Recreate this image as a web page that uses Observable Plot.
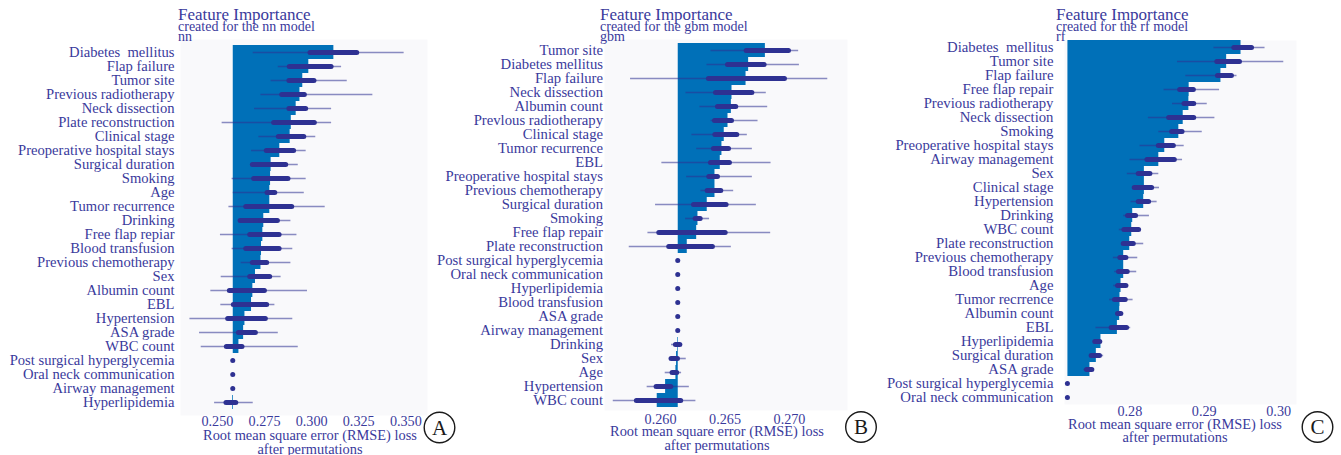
<!DOCTYPE html>
<html>
<head>
<meta charset="utf-8">
<script src="https://cdn.jsdelivr.net/npm/d3@7"></script>
<script src="https://cdn.jsdelivr.net/npm/@observablehq/plot@0.6"></script>
<style>
  html, body { margin: 0; padding: 0; background: #ffffff; }
  #wrap { position: relative; width: 1341px; height: 455px; overflow: hidden; }
  #wrap > svg { position: absolute; left: 0; top: 0; }
</style>
</head>
<body>
<div id="wrap"></div>
<script>
// ---------------- Panel A : nn model ----------------
const featuresA = ["Diabetes\u00a0 mellitus","Flap failure","Tumor site","Previous radiotherapy","Neck dissection","Plate reconstruction","Clinical stage","Preoperative hospital stays","Surgical duration","Smoking","Age","Tumor recurrence","Drinking","Free flap repiar","Blood transfusion","Previous chemotherapy","Sex","Albumin count","EBL","Hypertension","ASA grade","WBC count","Post surgical hyperglycemia","Oral neck communication","Airway management","Hyperlipidemia"];
const baselineA = 0.2584;
const lossA = [0.3118,0.2985,0.2953,0.2938,0.2918,0.2892,0.2886,0.2831,0.2785,0.2782,0.2778,0.2778,0.2746,0.2741,0.2734,0.2731,0.2702,0.2688,0.2681,0.2646,0.2639,0.2614,0.2584,0.2584,0.2584,0.2580];
const minA  = [0.2690,0.2823,0.2785,0.2731,0.2697,0.2525,0.2720,0.2681,0.2685,0.2578,0.2584,0.2561,0.2623,0.2516,0.2578,0.2626,0.2520,0.2465,0.2518,0.2354,0.2405,0.2414,0.2584,0.2584,0.2584,0.2485];
const maxA  = [0.3491,0.3159,0.3189,0.3325,0.3106,0.3106,0.3022,0.2971,0.2929,0.2971,0.2961,0.3072,0.2890,0.2922,0.2900,0.2890,0.2838,0.2978,0.2805,0.2900,0.2823,0.2929,0.2584,0.2584,0.2584,0.2690];
const q1A   = [0.2994,0.2884,0.2882,0.2844,0.2882,0.2801,0.2826,0.2762,0.2688,0.2695,0.2766,0.2653,0.2623,0.2674,0.2653,0.2688,0.2674,0.2566,0.2587,0.2557,0.2614,0.2550,0.2584,0.2584,0.2584,0.2548];
const q3A   = [0.3242,0.3106,0.3015,0.2964,0.2971,0.3017,0.2961,0.2907,0.2865,0.2877,0.2807,0.2897,0.2821,0.2830,0.2830,0.2764,0.2780,0.2752,0.2764,0.2757,0.2704,0.2633,0.2584,0.2584,0.2584,0.2600];
const ticksA = [0.250,0.275,0.300,0.325,0.350];

// ---------------- Panel B : gbm model ----------------
const featuresB = ["Tumor site","Diabetes mellitus","Flap failure","Neck dissection","Albumin count","Prevlous radiotherapy","Clinical stage","Tumor recurrence","EBL","Preoperative hospital stays","Previous chemotherapy","Surgical duration","Smoking","Free flap repair","Plate reconstruction","Post surgical hyperglycemia","Oral neck communication","Hyperlipidemia","Blood transfusion","ASA grade","Airway management","Drinking","Sex","Age","Hypertension","WBC count"];
const baselineB = 0.26137;
const lossB = [0.26813,0.26683,0.26663,0.26554,0.26549,0.26523,0.26494,0.26476,0.26463,0.26422,0.26422,0.26362,0.26290,0.26280,0.26207,0.26137,0.26137,0.26137,0.26137,0.26137,0.26137,0.26132,0.26124,0.26119,0.26039,0.25974];
const minB  = [0.26391,0.26360,0.25767,0.26197,0.26305,0.26391,0.26243,0.26280,0.26010,0.26202,0.26313,0.25961,0.26194,0.25902,0.25757,0.26137,0.26137,0.26137,0.26137,0.26137,0.26137,0.26085,0.26078,0.26036,0.25896,0.25633];
const maxB  = [0.27071,0.27077,0.27297,0.26820,0.26831,0.26756,0.26673,0.26712,0.26857,0.26712,0.26567,0.26743,0.26380,0.26854,0.26549,0.26137,0.26137,0.26137,0.26137,0.26137,0.26137,0.26171,0.26199,0.26163,0.26223,0.26274];
const q1B   = [0.26668,0.26523,0.26375,0.26430,0.26445,0.26422,0.26425,0.26414,0.26391,0.26378,0.26365,0.26259,0.26272,0.25990,0.26067,0.26137,0.26137,0.26137,0.26137,0.26137,0.26137,0.26119,0.26085,0.26093,0.25969,0.25816];
const q3B   = [0.26996,0.26807,0.26965,0.26712,0.26587,0.26554,0.26595,0.26531,0.26538,0.26445,0.26471,0.26512,0.26311,0.26505,0.26406,0.26137,0.26137,0.26137,0.26137,0.26137,0.26137,0.26153,0.26135,0.26129,0.26083,0.26160];
const ticksB = [0.260,0.265,0.270];

// ---------------- Panel C : rf model ----------------
const featuresC = ["Diabetes\u00a0 mellitus","Tumor site","Flap failure","Free flap repair","Previous radiotherapy","Neck dissection","Smoking","Preoperative hospital stays","Airway management","Sex","Clinical stage","Hypertension","Drinking","WBC count","Plate reconstruction","Previous chemotherapy","Blood transfusion","Age","Tumor recrrence","Albumin count","EBL","Hyperlipidemia","Surgical duration","ASA grade","Post surgical hyperglycemia","Oral neck communication"];
const baselineC = 0.27167;
const lossC = [0.29494,0.29301,0.29224,0.28797,0.28793,0.28717,0.28658,0.28469,0.28389,0.28195,0.28195,0.28186,0.28038,0.28025,0.27998,0.27917,0.27917,0.27881,0.27867,0.27863,0.27832,0.27611,0.27549,0.27463,0.27167,0.27167];
const minC  = [0.29130,0.28640,0.28752,0.28460,0.28573,0.28249,0.28389,0.28137,0.28002,0.27966,0.28038,0.28016,0.27917,0.27858,0.27908,0.27778,0.27796,0.27782,0.27728,0.27818,0.27544,0.27513,0.27459,0.27382,0.27167,0.27167];
const maxC  = [0.29817,0.30069,0.29440,0.29206,0.29040,0.29143,0.28973,0.28730,0.28708,0.28389,0.28398,0.28366,0.28263,0.28133,0.28186,0.28106,0.28092,0.27984,0.28043,0.27903,0.28011,0.27611,0.27647,0.27499,0.27167,0.27167];
const q1C   = [0.29404,0.29175,0.29184,0.28676,0.28734,0.28528,0.28568,0.28389,0.28236,0.28119,0.28065,0.28119,0.27975,0.27926,0.27917,0.27872,0.27854,0.27841,0.27800,0.27841,0.27755,0.27535,0.27486,0.27423,0.27167,0.27167];
const q3C   = [0.29642,0.29480,0.29372,0.28860,0.28865,0.28865,0.28708,0.28591,0.28604,0.28276,0.28299,0.28258,0.28083,0.28124,0.28052,0.27953,0.27971,0.27953,0.27944,0.27885,0.27962,0.27602,0.27598,0.27495,0.27167,0.27167];
const ticksC = [0.28,0.29,0.30];

// ---------------- styling ----------------
const TEXT = "#3a3a9c";
const BAR = "#0070b8";
const BOX = "#2e3192";
const BG = "#f9f9fb";
const FONT = "'Liberation Serif', 'Times New Roman', serif";

function rows(features, baseline, loss, mn, mx, q1, q3) {
  return features.map((f, i) => ({feature: f, base: baseline, loss: loss[i], min: mn[i], max: mx[i], q1: q1[i], q3: q3[i]}));
}

function panel(cfg) {
  const data = rows(cfg.features, cfg.baseline, cfg.loss, cfg.min, cfg.max, cfg.q1, cfg.q3);
  return Plot.plot({
    width: 1341,
    height: 455,
    marginLeft: cfg.left,
    marginRight: 1341 - cfg.right,
    marginTop: cfg.top,
    marginBottom: 455 - cfg.bottom,
    style: {background: "transparent", fontFamily: FONT, fontSize: "14px", color: TEXT, overflow: "visible"},
    x: {domain: cfg.domain, label: null},
    y: {domain: cfg.features, padding: 0, label: null},
    marks: [
      Plot.frame({fill: BG, stroke: "none"}),
      Plot.barX(data, {y: "feature", x1: "base", x2: "loss", fill: BAR}),
      Plot.ruleY(data, {y: "feature", x1: "min", x2: "max", stroke: BOX, strokeOpacity: 0.55, strokeWidth: 1.6}),
      Plot.ruleY(data, {y: "feature", x1: "q1", x2: "q3", stroke: BOX, strokeWidth: 5, strokeLinecap: "round"}),
      Plot.axisX({ticks: cfg.ticks, tickFormat: cfg.fmt, tickSize: 0, tickPadding: cfg.xpad, label: null, fontSize: 14.2}),
      Plot.axisY({tickSize: 0, tickPadding: cfg.ypad, label: null, fontSize: cfg.yfont})
    ]
  });
}

const wrap = document.getElementById("wrap");
wrap.appendChild(panel({features: featuresA, baseline: baselineA, loss: lossA, min: minA, max: maxA, q1: q1A, q3: q3A,
  left: 180, right: 427, top: 39, bottom: 415, domain: [0.2304, 0.3615], ticks: ticksA, fmt: d3.format(".3f"), xpad: 0, ypad: 6, yfont: 14.6}));
wrap.appendChild(panel({features: featuresB, baseline: baselineB, loss: lossB, min: minB, max: maxB, q1: q1B, q3: q3B,
  left: 604, right: 847, top: 39, bottom: 410, domain: [0.25565, 0.2745], ticks: ticksB, fmt: d3.format(".3f"), xpad: 3, ypad: 1.5, yfont: 14.7}));
wrap.appendChild(panel({features: featuresC, baseline: baselineC, loss: lossC, min: minC, max: maxC, q1: q1C, q3: q3C,
  left: 1064, right: 1296, top: 40, bottom: 404, domain: [0.27121, 0.3024], ticks: ticksC, fmt: d3.format(".2f"), xpad: 1.5, ypad: 11, yfont: 14.75}));

// ---------------- titles, axis titles, panel letters ----------------
const titles = [
  {x: 178, t: "Feature Importance", s: "created for the nn model", m: "nn"},
  {x: 600, t: "Feature Importance", s: "created for the gbm model", m: "gbm"},
  {x: 1056, t: "Feature Importance", s: "created for the rf model", m: "rf"}
];
const xlabels = [
  {x: 310, y: 440},
  {x: 717, y: 436},
  {x: 1175, y: 428.5}
];
const letters = [
  {x: 439.5, y: 427.5, t: "A"},
  {x: 861, y: 427, t: "B"},
  {x: 1317.5, y: 427, t: "C"}
];
const ns = "http://www.w3.org/2000/svg";
const ov = d3.create("svg").attr("xmlns", ns).attr("width", 1341).attr("height", 455)
  .style("font-family", FONT).style("overflow", "hidden");
for (const d of titles) {
  ov.append("text").attr("x", d.x).attr("y", 20).attr("fill", TEXT).attr("font-size", 17).text(d.t);
  ov.append("text").attr("x", d.x).attr("y", 31).attr("fill", TEXT).attr("font-size", 14).text(d.s);
  ov.append("text").attr("x", d.x).attr("y", 41).attr("fill", TEXT).attr("font-size", 14).text(d.m);
}
for (const d of xlabels) {
  ov.append("text").attr("x", d.x).attr("y", d.y).attr("text-anchor", "middle").attr("fill", TEXT).attr("font-size", 14.4)
    .text("Root mean square error (RMSE) loss");
  ov.append("text").attr("x", d.x).attr("y", d.y + 13.5).attr("text-anchor", "middle").attr("fill", TEXT).attr("font-size", 14.4)
    .text("after permutations");
}
for (const d of letters) {
  ov.append("circle").attr("cx", d.x).attr("cy", d.y).attr("r", 15.3).attr("fill", "white").attr("stroke", "#1a1a1a").attr("stroke-width", 1.4);
  ov.append("text").attr("x", d.x).attr("y", d.y + 7).attr("text-anchor", "middle").attr("fill", "#1a1a1a").attr("font-size", 21).text(d.t);
}
wrap.appendChild(ov.node());
</script>
</body>
</html>
